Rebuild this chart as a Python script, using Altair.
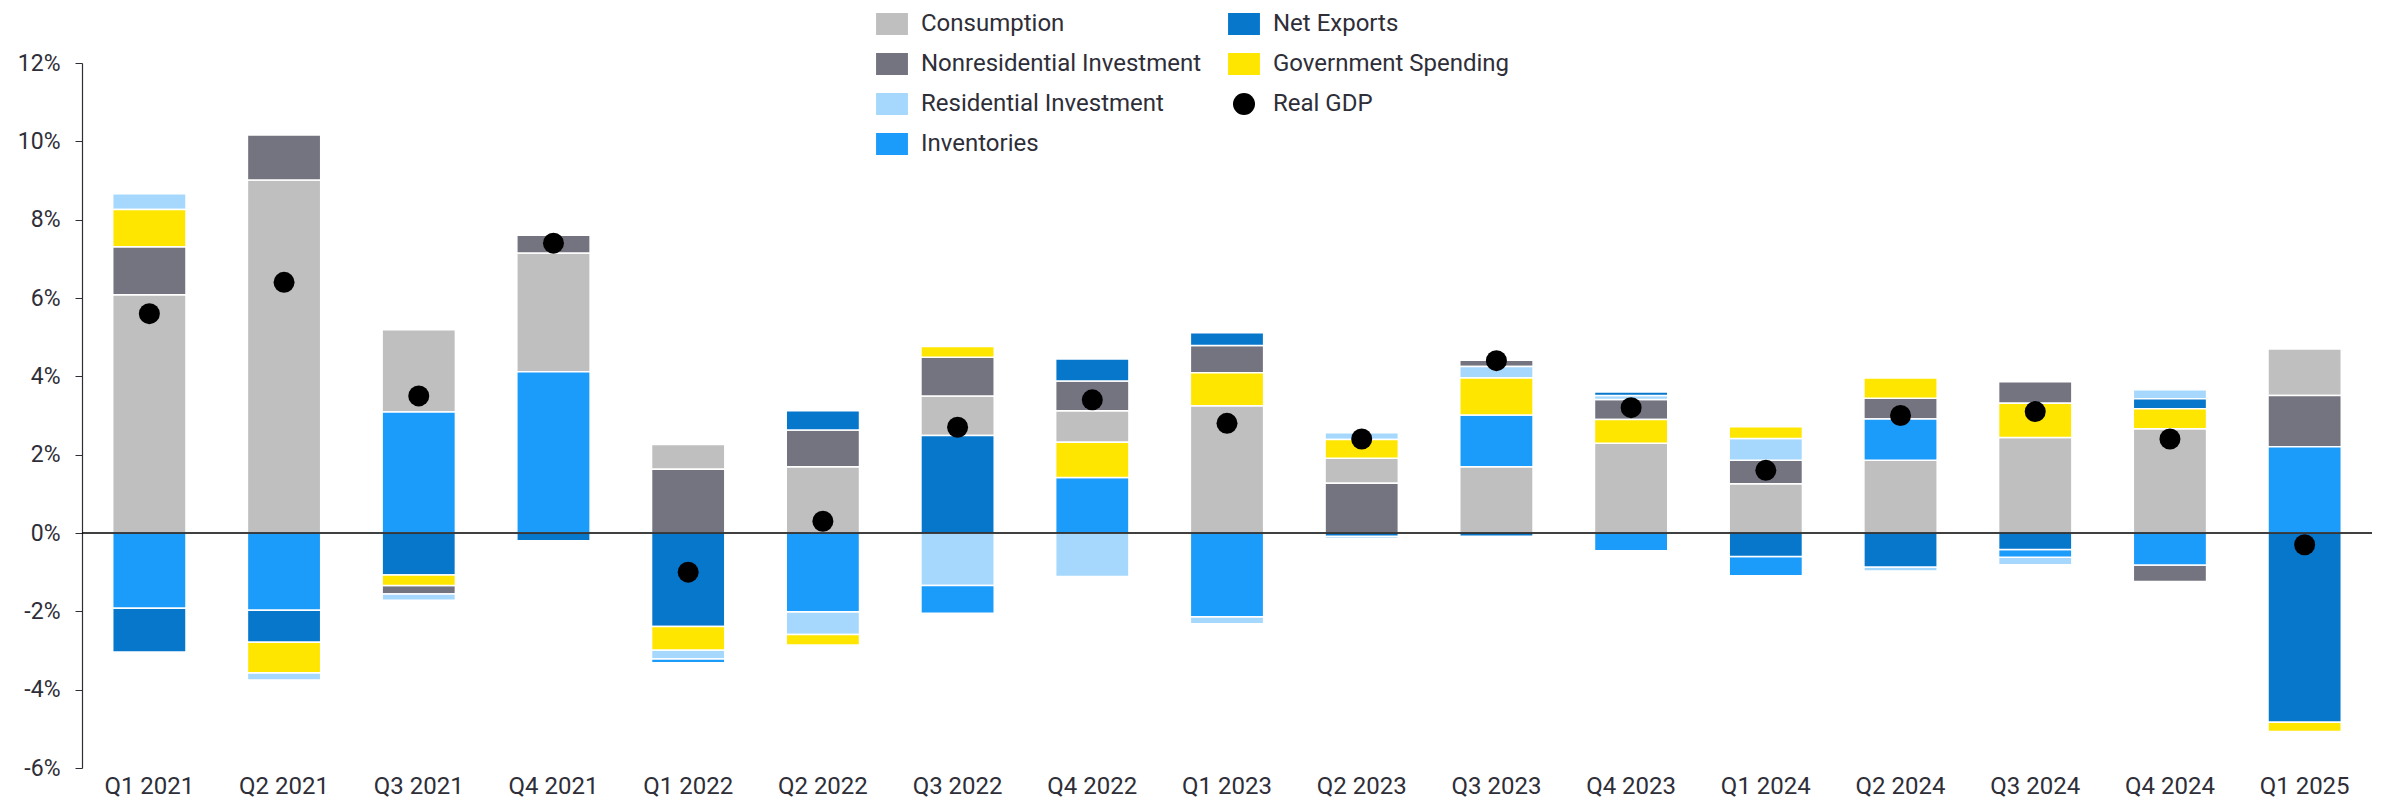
import altair as alt
import pandas as pd

quarters = ["Q1 2021", "Q2 2021", "Q3 2021", "Q4 2021", "Q1 2022", "Q2 2022",
            "Q3 2022", "Q4 2022", "Q1 2023", "Q2 2023", "Q3 2023", "Q4 2023",
            "Q1 2024", "Q2 2024", "Q3 2024", "Q4 2024", "Q1 2025"]

consumption = [6.08, 9.01, 2.10, 3.03, 0.63, 1.69, 1.01, 0.80, 3.25, 0.64, 1.69, 2.29,
               1.26, 1.86, 2.44, 2.66, 1.19]
nonres_investment = [1.23, 1.15, -0.22, 0.45, 1.63, 0.94, 0.99, 0.76, 0.70, 1.27, 0.16, 0.51,
                     0.60, 0.53, 0.55, -0.42, 1.31]
res_investment = [0.40, -0.18, -0.16, 0.0, -0.23, -0.58, -1.34, -1.11, -0.18, 0.17, 0.29, 0.10,
                  0.55, -0.10, -0.19, 0.23, 0.0]
inventories = [-1.92, -1.97, 3.09, 4.12, -0.09, -2.01, -0.71, 1.42, -2.14, -0.05, 1.32, -0.45,
               -0.49, 1.05, -0.20, -0.82, 2.20]
net_exports = [-1.12, -0.82, -1.07, -0.20, -2.39, 0.49, 2.49, 0.56, 0.32, -0.08, -0.08, 0.09,
               -0.60, -0.87, -0.42, 0.26, -4.83]
gov_spending = [0.95, -0.78, -0.27, 0.0, -0.60, -0.27, 0.27, 0.90, 0.84, 0.48, 0.95, 0.61,
                0.30, 0.52, 0.87, 0.51, -0.24]
real_gdp = [5.6, 6.4, 3.5, 7.4, -1.0, 0.3, 2.7, 3.4, 2.8, 2.4, 4.4, 3.2, 1.6, 3.0, 3.1, 2.4, -0.3]

legend_order = ["Consumption", "Nonresidential Investment", "Residential Investment",
                "Inventories", "Net Exports", "Government Spending", "Real GDP"]
legend_colors = ["#bfbfbf", "#747480", "#a6d8fd", "#1b9bfa", "#0777cc", "#ffe600", "#000000"]
rect_path = "M-1.45,-1L1.45,-1L1.45,1L-1.45,1Z"
legend_shapes = [rect_path, rect_path, rect_path, rect_path, rect_path, rect_path, "circle"]

components = [
    ("Consumption", consumption),
    ("Nonresidential Investment", nonres_investment),
    ("Residential Investment", res_investment),
    ("Inventories", inventories),
    ("Net Exports", net_exports),
    ("Government Spending", gov_spending),
]

rows = []
for name, vals in components:
    for q, v in zip(quarters, vals):
        if v != 0:
            rows.append({"quarter": q, "series": name, "value": v, "mag": abs(v)})
bars_df = pd.DataFrame(rows)
gdp_df = pd.DataFrame({"quarter": quarters, "series": "Real GDP", "value": real_gdp})
zero_df = pd.DataFrame({"zero": [0]})

FONT = "Roboto"
TEXT = "#2e2e38"

color_scale = alt.Scale(domain=legend_order, range=legend_colors)
shape_scale = alt.Scale(domain=legend_order, range=legend_shapes)

legend = alt.Legend(
    title=None, orient="none", legendX=798, legendY=-51, columns=2,
    labelFontSize=24, labelFont=FONT, labelColor=TEXT, symbolSize=484,
    symbolStrokeWidth=0, symbolOpacity=1, rowPadding=16, columnPadding=26,
    labelOffset=17, padding=0, labelLimit=600,
)

x_enc = alt.X(
    "quarter:N", sort=quarters,
    scale=alt.Scale(paddingInner=0.456, paddingOuter=0.228),
    axis=alt.Axis(title=None, labelAngle=0, domain=False, ticks=False,
                  labelFontSize=24, labelPadding=6),
)
y_scale = alt.Scale(domain=[-6, 12], nice=False, zero=False)
y_axis = alt.Axis(title=None, values=list(range(-6, 13, 2)), labelExpr="datum.value + '%'",
                  grid=False, tickSize=7, labelFontSize=23, labelPadding=15)

bars = alt.Chart(bars_df).mark_bar(stroke="white", strokeWidth=1.5).encode(
    x=x_enc,
    y=alt.Y("value:Q", stack="zero", scale=y_scale, axis=y_axis),
    color=alt.Color("series:N", scale=color_scale, legend=legend),
    order=alt.Order("mag:Q", sort="descending"),
)

zero_rule = alt.Chart(zero_df).mark_rule(color="black", strokeWidth=1.3).encode(
    y=alt.Y("zero:Q")
)

points = alt.Chart(gdp_df).mark_point(filled=True, size=441, opacity=1).encode(
    x=x_enc,
    y=alt.Y("value:Q"),
    color=alt.Color("series:N", scale=color_scale, legend=legend),
    shape=alt.Shape("series:N", scale=shape_scale, legend=legend),
)

chart = alt.layer(bars, zero_rule, points).properties(
    width=2290, height=705,
    padding={"left": 74, "top": 55, "right": 6, "bottom": 33},
    autosize="none",
).configure_view(stroke=None).configure_axis(
    labelFont=FONT, labelColor=TEXT, domainColor=TEXT, tickColor=TEXT, domainWidth=1.2
)

chart.save("out.html", embed_options={"renderer": "svg", "actions": False})
